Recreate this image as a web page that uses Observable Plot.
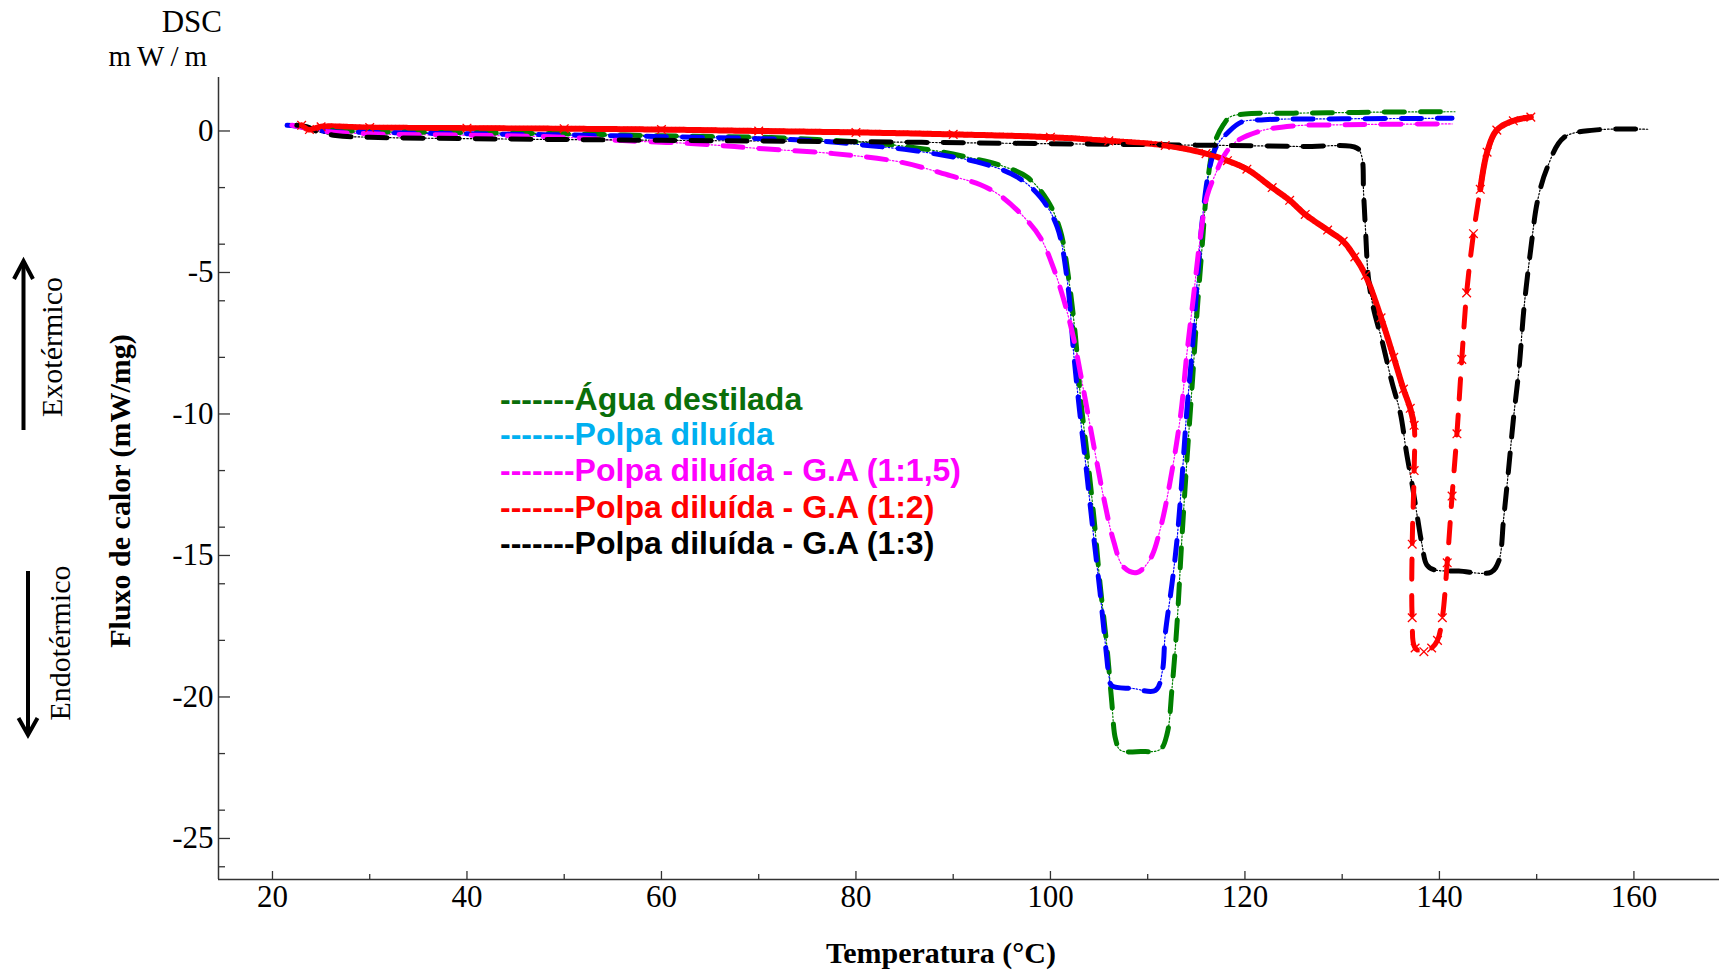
<!DOCTYPE html>
<html><head><meta charset="utf-8">
<script src="https://cdn.jsdelivr.net/npm/d3@7"></script>
<script src="https://cdn.jsdelivr.net/npm/@observablehq/plot@0.6"></script>
<style>html,body{margin:0;padding:0;background:#fff;} #chart{width:1719px;height:975px;}</style>
</head><body><div id="chart"></div>
<script>
// ---- Data ----
const seriesNames = ["Água destilada", "Polpa diluída", "Polpa diluída - G.A (1:1,5)", "Polpa diluída - G.A (1:2)", "Polpa diluída - G.A (1:3)"];
const lineColors = ["#008000", "#0000ff", "#ff00ff", "#ff0000", "#000000"];
const legendColors = ["#0a6e0a", "#00b0f0", "#ff00ff", "#ff0000", "#000000"];

const aguaT = [22.5, 23.5, 25, 30, 40, 50, 60, 70, 76, 80, 84, 88, 91.5, 94.9, 97.6, 99.7, 101.0, 101.9, 102.6, 103.1, 103.8, 104.5, 105.1, 105.8, 106.3, 106.7, 107.2, 109.3, 111.3, 112.0, 112.5, 113.0, 113.5, 114.0, 114.6, 115.1, 115.6, 116.1, 116.8, 117.8, 118.5, 120, 125, 130, 135, 141.6];
const aguaV = [0.2, 0.12, 0.05, -0.02, -0.06, -0.1, -0.17, -0.22, -0.3, -0.38, -0.5, -0.69, -0.93, -1.22, -1.63, -2.46, -3.5, -5.28, -7.36, -9.45, -11.5, -13.76, -16.0, -18.2, -20.15, -21.5, -21.88, -21.93, -21.85, -21.3, -19.7, -17.5, -14.5, -11.8, -8.85, -6.3, -4.08, -2.0, -0.5, 0.23, 0.5, 0.6, 0.63, 0.65, 0.67, 0.68];

const polpaT = [21.5, 23, 25, 30, 40, 50, 60, 70, 76, 81.2, 85, 88, 93.1, 96.6, 99.0, 100.7, 101.7, 102.4, 103.0, 103.7, 104.4, 105.1, 105.7, 106.0, 106.3, 108.5, 110.8, 111.5, 111.8, 112.5, 113.0, 113.5, 114.0, 114.6, 115.1, 115.6, 116.3, 117.1, 118.2, 119.6, 122, 130, 141.3];
const polpaV = [0.2, 0.15, 0.0, -0.05, -0.1, -0.14, -0.2, -0.27, -0.35, -0.51, -0.65, -0.8, -1.15, -1.63, -2.35, -3.4, -5.2, -7.9, -9.9, -12.0, -14.2, -16.3, -18.3, -19.2, -19.6, -19.7, -19.77, -19.1, -17.8, -16.0, -14.5, -12.4, -10.0, -7.65, -5.28, -3.2, -1.41, -0.52, -0.07, 0.31, 0.4, 0.43, 0.45];

const ga15T = [22, 23.5, 25, 30, 40, 50, 56, 63.4, 70.5, 77.7, 84.6, 89.7, 92.8, 94.9, 97.3, 99.0, 100.3, 101.4, 102.4, 103.4, 104.5, 105.5, 106.5, 107.5, 108.9, 110.3, 111.3, 112.3, 113.4, 114.0, 114.7, 115.4, 116.1, 117.0, 117.8, 119.0, 121.6, 125, 130, 141.3];
const ga15V = [0.2, 0.1, 0.0, -0.1, -0.15, -0.22, -0.34, -0.45, -0.63, -0.8, -1.1, -1.58, -1.9, -2.3, -3.05, -3.79, -4.83, -6.0, -7.36, -9.15, -11.2, -13.0, -14.5, -15.4, -15.6, -15.1, -14.05, -12.4, -10.0, -7.96, -5.88, -3.79, -2.3, -1.5, -0.9, -0.4, 0.0, 0.18, 0.22, 0.25];

const ga2T = [23, 23.8, 25, 30, 40, 50, 60, 70, 80, 90, 100, 106, 111.8, 116.0, 118.2, 120.2, 122.8, 124.6, 126.2, 128.5, 130.1, 131.3, 132.4, 134.0, 135.3, 136.3, 137.0, 137.4, 137.4, 137.2, 137.2, 137.5, 138.4, 139.2, 139.8, 140.3, 140.8, 141.3, 141.8, 142.3, 142.8, 143.5, 144.2, 144.9, 145.9, 147.6, 149.4];
const ga2V = [0.2, 0.05, 0.15, 0.12, 0.1, 0.08, 0.05, 0.0, -0.05, -0.12, -0.22, -0.35, -0.51, -0.8, -1.05, -1.35, -2.0, -2.45, -2.95, -3.5, -3.9, -4.45, -5.1, -6.6, -8.0, -9.12, -9.8, -10.4, -12.0, -14.6, -17.2, -18.27, -18.4, -18.27, -18.0, -17.2, -15.26, -12.9, -10.7, -8.07, -5.72, -3.63, -2.06, -0.75, 0.03, 0.36, 0.49];

const ga3T = [22.5, 23.5, 24.5, 26.5, 30, 43, 60, 80, 100, 115, 125.7, 131.5, 132.0, 132.2, 132.4, 132.7, 133.2, 134.1, 135.1, 136.0, 136.6, 137.2, 137.7, 138.2, 138.7, 139.4, 142, 145.3, 146.1, 146.6, 147.1, 147.6, 148.2, 148.7, 149.4, 150.1, 151.1, 152.8, 155.9, 161.5];
const ga3V = [0.2, 0.15, 0.0, -0.16, -0.22, -0.28, -0.33, -0.38, -0.45, -0.5, -0.55, -0.6, -0.88, -2.19, -3.5, -5.2, -6.24, -7.42, -8.86, -10.0, -11.34, -12.5, -13.57, -14.6, -15.33, -15.5, -15.55, -15.59, -15.2, -13.7, -12.0, -10.2, -8.34, -6.24, -4.15, -2.45, -1.28, -0.23, 0.03, 0.06];

const xMajor = [20, 40, 60, 80, 100, 120, 140, 160];
const xMinor = [30, 50, 70, 90, 110, 130, 150];
const yMajor = [0, -5, -10, -15, -20, -25];
const yMinor = [-2, -4, -6, -8, -12, -14, -16, -18, -22, -24, -26];
const xDomain = [14.45, 168.8];
const yDomain = [-26.45, 1.89];

// ---- Build table ----
const seriesT = [aguaT, polpaT, ga15T, ga2T, ga3T];
const seriesV = [aguaV, polpaV, ga15V, ga2V, ga3V];
const rows = [];
seriesNames.forEach((s, i) => seriesT[i].forEach((t, j) => rows.push({s, T: t, V: seriesV[i][j]})));
const redRows = rows.filter(d => d.s === seriesNames[3]).map(d => ({...d, dense: (d.T < 137.45 && d.V > -10.5) || d.T >= 144}));
const otherRows = rows.filter(d => d.s !== seriesNames[3]);

const W = 1719, H = 975, mL = 218, mT = 77, mR = 0, mB = 96;
const plotW = W - mL - mR, plotH = H - mT - mB;
const axisColor = "#333";
const serif = "'Liberation Serif', 'Times New Roman', serif";

const chart = Plot.plot({
  width: W, height: H,
  marginLeft: mL, marginTop: mT, marginRight: mR, marginBottom: mB,
  x: {domain: xDomain},
  y: {domain: yDomain},
  color: {domain: seriesNames, range: lineColors},
  style: {fontFamily: serif, fontSize: "31px", background: "white", color: "black", overflow: "visible"},
  marks: [
    Plot.axisX({ticks: xMajor, tickSize: 0, tickPadding: 5, tickFormat: d => String(d), label: null, fontSize: 31}),
    Plot.axisY({ticks: yMajor, tickSize: 0, tickPadding: 5, tickFormat: d => String(d), label: null, fontSize: 31}),
    Plot.ruleX([xDomain[0]], {stroke: axisColor, strokeWidth: 1.5}),
    Plot.ruleY([yDomain[0]], {stroke: axisColor, strokeWidth: 1.5}),
    Plot.tickY(yMajor, {y: d => d, insetRight: plotW - 12, stroke: axisColor, strokeWidth: 1.3}),
    Plot.tickY(yMinor, {y: d => d, insetRight: plotW - 7, stroke: axisColor, strokeWidth: 1.3}),
    Plot.tickX(xMajor, {x: d => d, insetTop: plotH - 8, stroke: axisColor, strokeWidth: 1.3}),
    Plot.tickX(xMinor, {x: d => d, insetTop: plotH - 5, stroke: axisColor, strokeWidth: 1.3}),
    // red dense band (overlapping markers in the original)
    Plot.line(redRows, {x: "T", y: d => d.dense ? d.V : NaN, stroke: lineColors[3], strokeWidth: 6, strokeDasharray: "3,1", curve: "catmull-rom"}),
    // thin dotted data trace
    Plot.line(otherRows, {x: "T", y: "V", z: "s", stroke: "s", strokeWidth: 1.2, strokeDasharray: "1.5,2", curve: "catmull-rom"}),
    // thick dashed lines
    Plot.line(otherRows, {x: "T", y: "V", z: "s", stroke: "s", strokeWidth: 5, strokeDasharray: "20,16", curve: "catmull-rom"}),
    Plot.line(redRows, {x: "T", y: "V", stroke: lineColors[3], strokeWidth: 5, strokeDasharray: "20,16", curve: "catmull-rom"}),
    Plot.dot(redRows, {x: "T", y: "V", symbol: "times", r: 4, stroke: lineColors[3], strokeWidth: 1.3})
  ]
});
document.getElementById("chart").appendChild(chart);

// ---- Annotations ----
const svg = d3.select(chart);
const g = svg.append("g").attr("font-family", serif).attr("fill", "black");
g.append("text").attr("x", 222).attr("y", 32).attr("text-anchor", "end").attr("font-size", 31).text("DSC");
g.append("text").attr("x", 213).attr("y", 66).attr("text-anchor", "end").attr("font-size", 29).attr("letter-spacing", 6).text("mW/m");
g.append("text").attr("transform", "translate(130,491) rotate(-90)").attr("text-anchor", "middle").attr("font-size", 30).attr("font-weight", "bold").text("Fluxo de calor (mW/mg)");
g.append("text").attr("x", 941).attr("y", 963).attr("text-anchor", "middle").attr("font-size", 30).attr("font-weight", "bold").text("Temperatura (°C)");
g.append("text").attr("transform", "translate(62,347) rotate(-90)").attr("text-anchor", "middle").attr("font-size", 30).text("Exotérmico");
g.append("text").attr("transform", "translate(70,643) rotate(-90)").attr("text-anchor", "middle").attr("font-size", 30).text("Endotérmico");

const arr = svg.append("g").attr("stroke", "black").attr("stroke-width", 4).attr("fill", "none");
arr.append("line").attr("x1", 23.5).attr("x2", 23.5).attr("y1", 430).attr("y2", 262);
arr.append("polyline").attr("points", "14,279 23.5,261 33,279");
arr.append("line").attr("x1", 28).attr("x2", 28).attr("y1", 571).attr("y2", 734);
arr.append("polyline").attr("points", "18.5,718 28,735 37.5,718");

const leg = svg.append("g").attr("font-family", "'Liberation Sans', Arial, sans-serif").attr("font-weight", "bold").attr("font-size", 32).attr("text-anchor", "start");
const legBase = [410, 445, 481, 518, 554];
seriesNames.forEach((s, i) => {
  leg.append("text").attr("x", 500).attr("y", legBase[i]).attr("text-anchor", "start").attr("fill", legendColors[i]).text("-------" + s);
});
</script>
</body></html>
